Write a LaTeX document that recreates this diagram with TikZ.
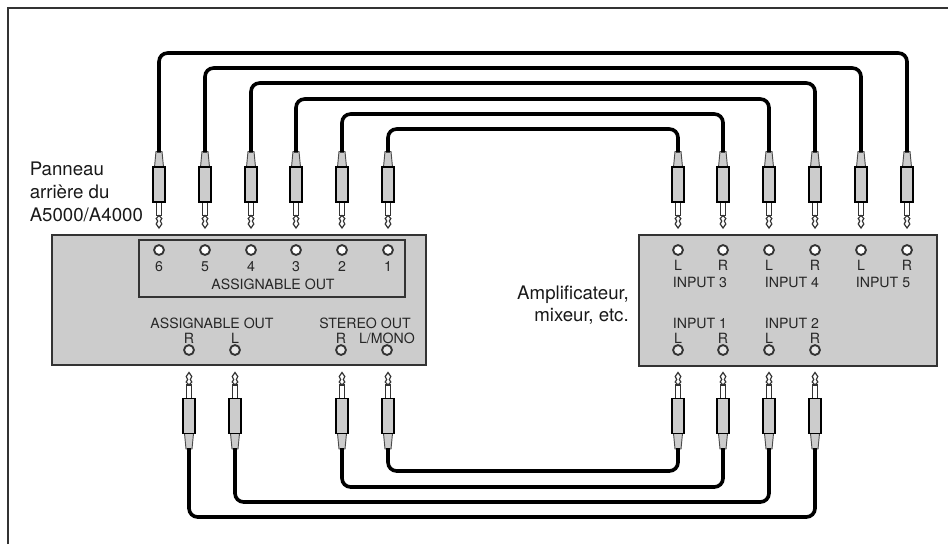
\documentclass[tikz,border=0pt]{standalone}
\usepackage{fontspec}
\setmainfont{TeX Gyre Heros}
\usetikzlibrary{arrows.meta,positioning,calc}

\definecolor{panelgray}{HTML}{CCCCCC}
\definecolor{linegray}{HTML}{333333}

\tikzset{
    panel/.style={draw=linegray, fill=panelgray, line width=1.1pt},
    cable/.style={draw=black, line width=2.7pt, rounded corners=6.5pt},
    socket/.style={circle, draw=linegray, fill=white, line width=1.4pt, minimum size=7.4pt, inner sep=0pt},
    socketlow/.style={socket, fill=panelgray!50},
    small/.style={font=\fontsize{10.6}{12}\selectfont, inner sep=0pt, anchor=base, text=black!85},
    big/.style={font=\fontsize{14}{17.2}\selectfont, inner sep=0pt, text=black!90},
    jack/.pic={
        \draw[draw=black!70, fill=panelgray, line width=0.7pt] (-3,-1) -- (3,-1) -- (4.5,14.5) -- (-4.5,14.5) -- cycle;
        \draw[draw=linegray, fill=white, line width=0.9pt] (-2.6,49.5) rectangle (2.6,63);
        \draw[draw=linegray, fill=white, line width=0.9pt] (0,63) -- (-2.8,66) -- (-1.3,68.5) -- (-2.8,71.5) -- (0,75.5) -- (2.8,71.5) -- (1.3,68.5) -- (2.8,66) -- cycle;
        \draw[draw=black, fill=panelgray, line width=0.9pt] (-6,14.5) rectangle (6,49.5);
    }
}

\begin{document}
\begin{tikzpicture}[x=0.75pt, y=-0.75pt]
    \useasboundingbox (0,0) rectangle (948,544);

    % Frame, open on two sides
    \coordinate (framea) at (8,544);
    \coordinate (frameb) at (8,8);
    \coordinate (framec) at (948,8);
    \draw[draw=linegray, line width=0.9pt] (framea) -- (frameb) -- (framec);

    % Panels
    \draw[panel] (52,235) rectangle (426,365);
    \draw[draw=linegray, line width=0.9pt] (139,240) rectangle (405,297);
    \draw[panel] (639,235) rectangle (937,366);

    % Jacks, top row
    \foreach \x/\n in {159/a,205/b,251/c,296/d,342/e,388/f,678/g,723/h,769/i,815/j,861/k,907/l}{
        \coordinate (top\n) at (\x,152.5);
        \pic at (top\n) {jack};
    }
    % Jacks, bottom row
    \foreach \x/\n in {189/a,235/b,342/c,388/d,678/e,723/f,769/g,815/h}{
        \coordinate (low\n) at (\x,448);
        \pic[yscale=-1] at (low\n) {jack};
    }

    % Cables
    \foreach \a/\b/\h in {a/l/53,b/k/68,c/j/83,d/i/99,e/h/114,f/g/129}
        \draw[cable] (top\a) -- (top\a |- 0,\h) -- (top\b |- 0,\h) -- (top\b);
    \foreach \a/\b/\h in {a/h/517,b/g/502,c/f/487,d/e/471}
        \draw[cable] (low\a) -- (low\a |- 0,\h) -- (low\b |- 0,\h) -- (low\b);

    % Sockets
    \foreach \x/\n/\t in {159/a/6,205/b/5,251/c/4,296/d/3,342/e/2,388/f/1}{
        \node[socket] (outs\n) at (\x,250) {};
        \node[small] (outn\n) at (\x,271) {\t};
    }
    \foreach \x/\n/\t in {678/g/L,723/h/R,769/i/L,815/j/R,861/k/L,907/l/R}{
        \node[socket] (ins\n) at (\x,250) {};
        \node[small] (inn\n) at (\x,270.5) {\t};
    }
    \foreach \x/\n/\t in {189/a/R,235/b/L,341/c/R,387/d/L\slash MONO,678/e/L,723/f/R,769/g/L,815/h/R}{
        \node[socketlow] (lows\n) at (\x,350) {};
        \node[small] (lown\n) at (\x,343) {\t};
    }

    % Labels
    \node[small] (assigna) at (273,289) {ASSIGNABLE OUT};
    \node[small] (assignb) at (212,328) {ASSIGNABLE OUT};
    \node[small] (stereo) at (365,328) {STEREO OUT};
    \node[small] (inputc) at (700,287.5) {INPUT 3};
    \node[small] (inputd) at (792,287.5) {INPUT 4};
    \node[small] (inpute) at (883,287.5) {INPUT 5};
    \node[small] (inputa) at (700,328) {INPUT 1};
    \node[small] (inputb) at (792,328) {INPUT 2};
    \node[big, anchor=west, align=left] (rear) at (29.5,192) {Panneau\\arrière du\\A5000/A4000};
    \node[big, anchor=east, align=right] (amp) at (629,305) {Amplificateur,\\mixeur, etc.};
\end{tikzpicture}
\end{document}
